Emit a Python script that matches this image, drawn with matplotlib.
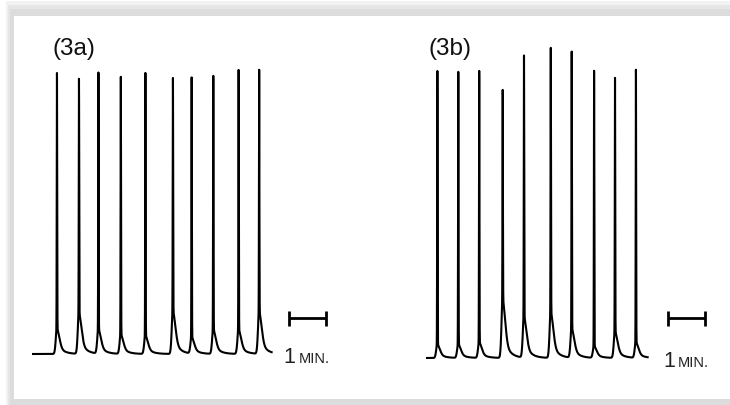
import numpy as np
import matplotlib
matplotlib.use("Agg")
import matplotlib.pyplot as plt
from matplotlib.patches import Rectangle

# spike trains: time (min), peak height and shoulder height (a.u.)
times_a = [0.68, 1.28, 1.81, 2.42, 3.09, 3.84, 4.35, 4.94, 5.63, 6.19]
peaks_a = [281, 275, 281, 277, 281, 276, 276, 278, 284, 284]
bumps_a = [26, 42, 25, 20, 19, 44, 17, 25, 25, 43]
end_a = 6.53

times_b = [0.31, 0.88, 1.45, 2.09, 2.67, 3.40, 3.97, 4.58, 5.15, 5.72]
peaks_b = [287, 286, 287, 268, 302, 310, 306, 287, 280, 288]
bumps_b = [14, 14, 16, 60, 42, 47, 30, 12, 27, 16]
end_b = 6.04

labels = ["(3a)", "(3b)"]
bar_start = [7.0, 6.6]
bar_level = [36, 40]

W, H = 730, 406
PX_PER_MIN = 36.7


def trace(times, peaks, bumps, t_end):
    t = np.arange(0, t_end, 0.0005)
    y = np.zeros_like(t)
    for ts, pk, b in zip(times, peaks, bumps):
        dt = (t - ts) * PX_PER_MIN
        left = b * np.exp(-(np.minimum(dt, 0) / 1.6) ** 2)
        right = b * (0.6 * np.exp(-(dt / 3.5) ** 2) + 0.4 * np.exp(-np.maximum(dt, 0) / 5.5))
        y += np.where(dt < 0, left, right)
        y += (pk - b) * np.exp(-(dt / 0.3) ** 2)
    return t, y


def px_rect(x0, y0, x1, y1, color):
    return Rectangle((x0 / W, 1 - y1 / H), (x1 - x0) / W, (y1 - y0) / H,
                     transform=fig.transFigure, facecolor=color, edgecolor="none", zorder=-10)


fig = plt.figure(figsize=(W / 100, H / 100), dpi=100)
fig.patch.set_facecolor("white")

# frame with soft shadow
fig.patches.append(px_rect(6, 2, W, H, "#f2f2f2"))
fig.patches.append(px_rect(8, 6, W, H, "#e6e6e6"))
fig.patches.append(px_rect(10, 10, W, H, "#dcdcdc"))
fig.patches.append(px_rect(14, 17, W, 400, "white"))

panels = [
    (times_a, peaks_a, bumps_a, end_a, 32, 355, 300),
    (times_b, peaks_b, bumps_b, end_b, 426, 359, 320),
]

for i, (tt, pk, bb, te, left_px, base_px, ytop) in enumerate(panels):
    xmax = 8.2
    ymin = -10
    w_px = xmax * PX_PER_MIN
    h_px = ytop - ymin
    ax = fig.add_axes([left_px / W, 1 - (base_px - ymin) / H, w_px / W, h_px / H])
    ax.set_xlim(0, xmax)
    ax.set_ylim(ymin, ytop)
    ax.axis("off")

    t, y = trace(tt, pk, bb, te)
    ax.plot(t, y, color="black", lw=1.5, solid_joinstyle="round")

    # 1 min scale bar
    x0 = bar_start[i]
    lv = bar_level[i]
    ax.plot([x0, x0 + 1], [lv, lv], color="black", lw=2, solid_capstyle="butt")
    ax.plot([x0, x0], [lv - 7.5, lv + 7.5], color="black", lw=2, solid_capstyle="butt")
    ax.plot([x0 + 1, x0 + 1], [lv - 7.5, lv + 7.5], color="black", lw=2, solid_capstyle="butt")
    ax.text(x0 - 0.14, -8, "1", fontsize=15.5, family="Liberation Sans",
            ha="left", va="baseline", color="#222222")
    ax.text(x0 + 0.27, -8, "MIN.", fontsize=10.5, family="Liberation Sans",
            ha="left", va="baseline", color="#222222")

fig.text(52.5 / W, 1 - 55 / H, labels[0], fontsize=17.5, family="Liberation Sans",
         ha="left", va="baseline", color="#111111")
fig.text(429 / W, 1 - 55 / H, labels[1], fontsize=17.5, family="Liberation Sans",
         ha="left", va="baseline", color="#111111")

fig.savefig("out.png", dpi=100)
